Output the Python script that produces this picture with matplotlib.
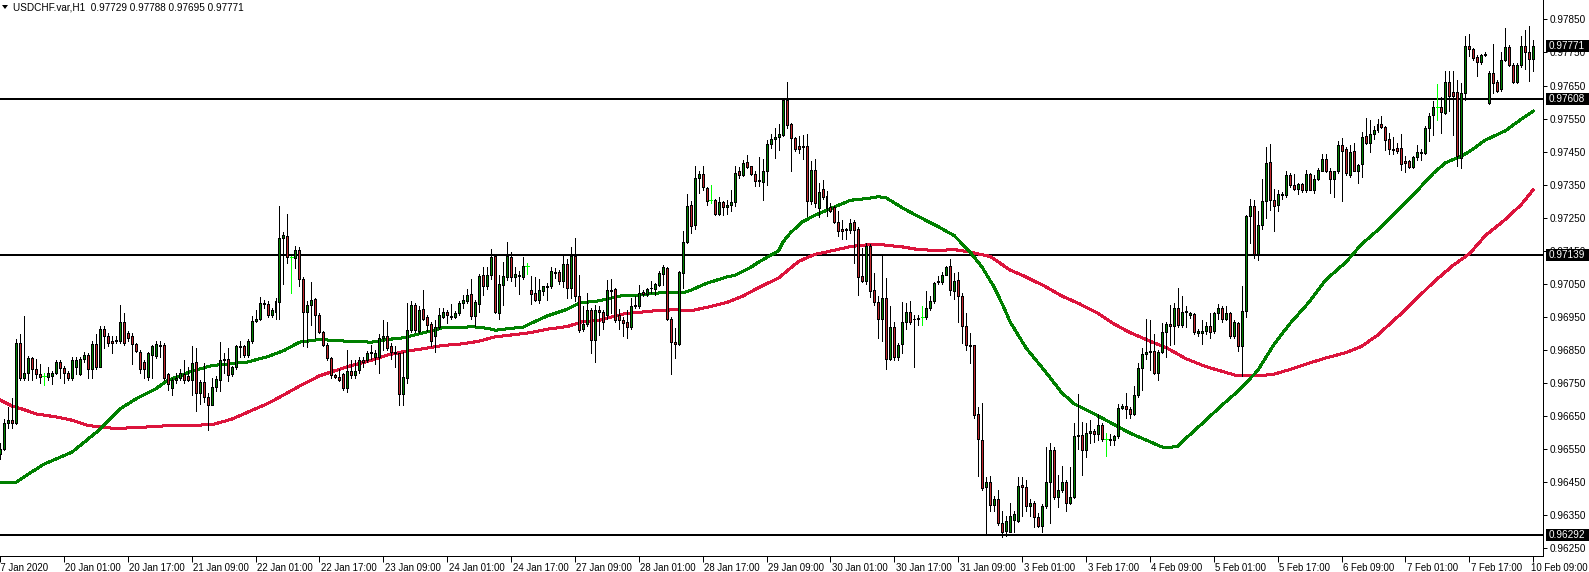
import matplotlib
matplotlib.use("Agg")
import matplotlib.pyplot as plt
import matplotlib.transforms as mtransforms
from matplotlib.patches import Rectangle, Polygon
import numpy as np

# ---------------- data ----------------
title_text = "USDCHF.var,H1  0.97729 0.97788 0.97695 0.97771"

open_ = [0.96535,0.96552,0.96630,0.96639,0.96630,0.96871,0.96767,0.96782,0.96826,0.96793,
0.96777,0.96772,0.96769,0.96772,0.96782,0.96814,0.96795,0.96782,0.96765,0.96798,
0.96779,0.96824,0.96835,0.96793,0.96869,0.96800,0.96915,0.96894,0.96877,0.96879,
0.96877,0.96934,0.96903,0.96894,0.96869,0.96845,0.96814,0.96769,0.96835,0.96831,
0.96861,0.96866,0.96777,0.96735,0.96761,0.96767,0.96777,0.96772,0.96761,0.96814,
0.96720,0.96754,0.96709,0.96685,0.96738,0.96761,0.96819,0.96822,0.96777,0.96798,
0.96859,0.96863,0.96835,0.96877,0.96938,0.96945,0.96989,0.96989,0.96955,0.96966,
0.96995,0.97188,0.97196,0.97131,0.97128,0.97152,0.97064,0.96966,0.96987,0.97005,
0.96957,0.96906,0.96864,0.96826,0.96775,0.96770,0.96779,0.96735,0.96788,0.96774,
0.96790,0.96819,0.96819,0.96843,0.96829,0.96829,0.96887,0.96892,0.96861,0.96845,
0.96840,0.96716,0.96767,0.96910,0.96987,0.96908,0.96973,0.96950,0.96929,0.96892,
0.96919,0.96950,0.96964,0.96953,0.96950,0.96961,0.96991,0.96997,0.97020,0.96953,
0.96990,0.97076,0.97044,0.97076,0.97133,0.96961,0.97048,0.97071,0.97131,0.97071,
0.97076,0.97071,0.97105,0.97031,0.97024,0.97002,0.97029,0.97044,0.97044,0.97086,
0.97086,0.97058,0.97109,0.97039,0.97133,0.97013,0.96913,0.96929,0.96971,0.96880,
0.96971,0.96964,0.96955,0.97031,0.97034,0.96955,0.96940,0.96934,0.96919,0.96987,
0.96982,0.97026,0.97020,0.97039,0.97036,0.97048,0.97081,0.97097,0.96945,0.96874,
0.96868,0.97084,0.97178,0.97289,0.97228,0.97369,0.97382,0.97341,0.97303,0.97303,
0.97261,0.97299,0.97283,0.97288,0.97299,0.97390,0.97380,0.97419,0.97406,0.97383,
0.97361,0.97359,0.97392,0.97474,0.97487,0.97495,0.97500,0.97605,0.97534,0.97492,
0.97466,0.97464,0.97466,0.97301,0.97395,0.97280,0.97338,0.97317,0.97283,0.97283,
0.97236,0.97217,0.97212,0.97212,0.97236,0.97215,0.97074,0.97060,0.97165,0.97031,
0.96994,0.96943,0.97006,0.96824,0.96920,0.96829,0.96869,0.96934,0.96964,0.96945,
0.96943,0.96950,0.96950,0.96976,0.96997,0.97055,0.97057,0.97078,0.97104,0.97029,
0.97062,0.97013,0.96922,0.96866,0.96864,0.96657,0.96578,0.96436,0.96450,0.96382,
0.96400,0.96327,0.96303,0.96300,0.96335,0.96332,0.96442,0.96436,0.96377,0.96387,
0.96345,0.96318,0.96377,0.96450,0.96547,0.96405,0.96426,0.96450,0.96387,0.96407,
0.96589,0.96594,0.96549,0.96599,0.96606,0.96597,0.96622,0.96580,0.96580,0.96578,
0.96589,0.96675,0.96681,0.96672,0.96657,0.96715,0.96796,0.96838,0.96845,0.96848,
0.96782,0.96845,0.96905,0.96929,0.96924,0.96976,0.96927,0.96966,0.96955,0.96958,
0.96901,0.96901,0.96908,0.96922,0.96908,0.96961,0.96976,0.96945,0.96961,0.96892,
0.96931,0.96863,0.96968,0.97254,0.97287,0.97141,0.97228,0.97301,0.97420,0.97303,
0.97290,0.97320,0.97319,0.97380,0.97350,0.97338,0.97351,0.97335,0.97383,0.97335,
0.97367,0.97393,0.97429,0.97390,0.97366,0.97390,0.97471,0.97458,0.97380,0.97451,
0.97393,0.97413,0.97498,0.97477,0.97503,0.97516,0.97535,0.97526,0.97487,0.97458,
0.97461,0.97462,0.97421,0.97421,0.97404,0.97434,0.97448,0.97445,0.97521,0.97560,
0.97584,0.97586,0.97568,0.97661,0.97631,0.97631,0.97432,0.97628,0.97771,0.97760,
0.97736,0.97720,0.97746,0.97598,0.97689,0.97660,0.97638,0.97726,0.97767,0.97713,
0.97662,0.97711,0.97770,0.97750,0.97729]

high = [0.96570,0.96641,0.96678,0.96704,0.96882,0.96898,0.96953,0.96832,0.96829,0.96824,
0.96809,0.96782,0.96798,0.96788,0.96819,0.96819,0.96803,0.96788,0.96829,0.96829,
0.96829,0.96845,0.96840,0.96877,0.96898,0.96924,0.96924,0.96903,0.96892,0.96892,
0.96987,0.96961,0.96908,0.96903,0.96871,0.96850,0.96819,0.96845,0.96866,0.96877,
0.96877,0.96871,0.96782,0.96767,0.96782,0.96793,0.96819,0.96798,0.96861,0.96856,
0.96761,0.96811,0.96720,0.96767,0.96772,0.96874,0.96840,0.96856,0.96803,0.96866,
0.96877,0.96866,0.96882,0.96953,0.96971,0.97010,0.97002,0.96997,0.96976,0.97008,
0.97285,0.97207,0.97262,0.97133,0.97165,0.97163,0.97071,0.96997,0.97055,0.97008,
0.96961,0.96908,0.96871,0.96829,0.96779,0.96793,0.96782,0.96850,0.96819,0.96819,
0.96829,0.96829,0.96848,0.96866,0.96850,0.96898,0.96940,0.96934,0.96871,0.96861,
0.96842,0.96845,0.96992,0.96997,0.96992,0.96982,0.97031,0.96957,0.96934,0.96940,
0.96976,0.96978,0.96971,0.96989,0.96968,0.96997,0.97016,0.97034,0.97065,0.97000,
0.97081,0.97102,0.97102,0.97157,0.97135,0.97076,0.97116,0.97177,0.97146,0.97100,
0.97090,0.97131,0.97113,0.97074,0.97071,0.97065,0.97044,0.97052,0.97102,0.97097,
0.97092,0.97135,0.97125,0.97163,0.97188,0.97076,0.96982,0.97023,0.96978,0.96987,
0.96982,0.96971,0.97063,0.97064,0.97039,0.96973,0.96950,0.96971,0.97006,0.97013,
0.97047,0.97031,0.97037,0.97060,0.97052,0.97089,0.97107,0.97102,0.96950,0.96916,
0.97088,0.97209,0.97322,0.97301,0.97408,0.97390,0.97408,0.97343,0.97348,0.97306,
0.97314,0.97301,0.97303,0.97333,0.97406,0.97403,0.97425,0.97440,0.97408,0.97393,
0.97435,0.97427,0.97485,0.97502,0.97523,0.97534,0.97610,0.97661,0.97537,0.97495,
0.97498,0.97500,0.97502,0.97422,0.97427,0.97356,0.97364,0.97331,0.97296,0.97285,
0.97270,0.97242,0.97220,0.97247,0.97244,0.97223,0.97160,0.97173,0.97170,0.97083,
0.97013,0.97139,0.97067,0.96984,0.96934,0.96871,0.96994,0.96992,0.96997,0.96955,
0.96955,0.96984,0.97029,0.97013,0.97055,0.97073,0.97086,0.97104,0.97125,0.97083,
0.97086,0.97024,0.96961,0.96901,0.96866,0.96678,0.96691,0.96465,0.96468,0.96410,
0.96426,0.96363,0.96347,0.96387,0.96363,0.96465,0.96465,0.96458,0.96400,0.96395,
0.96358,0.96384,0.96557,0.96570,0.96557,0.96471,0.96500,0.96458,0.96497,0.96630,
0.96716,0.96633,0.96630,0.96639,0.96611,0.96657,0.96630,0.96599,0.96597,0.96594,
0.96688,0.96688,0.96720,0.96678,0.96741,0.96811,0.96856,0.96943,0.96940,0.96898,
0.96850,0.96932,0.96936,0.96987,0.96992,0.97039,0.97013,0.96982,0.96966,0.96961,
0.96913,0.96940,0.96934,0.96961,0.96966,0.96989,0.96982,0.96984,0.96966,0.96940,
0.96934,0.97044,0.97259,0.97308,0.97303,0.97270,0.97366,0.97464,0.97472,0.97338,
0.97333,0.97327,0.97390,0.97385,0.97383,0.97354,0.97354,0.97395,0.97385,0.97380,
0.97401,0.97444,0.97442,0.97401,0.97392,0.97481,0.97490,0.97464,0.97471,0.97476,
0.97414,0.97510,0.97553,0.97547,0.97528,0.97549,0.97558,0.97529,0.97506,0.97495,
0.97476,0.97503,0.97437,0.97425,0.97437,0.97469,0.97458,0.97527,0.97568,0.97603,
0.97655,0.97616,0.97694,0.97694,0.97694,0.97668,0.97658,0.97799,0.97806,0.97762,
0.97743,0.97746,0.97752,0.97694,0.97776,0.97666,0.97752,0.97825,0.97773,0.97717,
0.97717,0.97800,0.97818,0.97831,0.97788]

low = [0.96520,0.96547,0.96615,0.96615,0.96625,0.96761,0.96761,0.96761,0.96761,0.96767,
0.96751,0.96744,0.96761,0.96746,0.96777,0.96767,0.96751,0.96761,0.96761,0.96777,
0.96775,0.96814,0.96767,0.96767,0.96793,0.96798,0.96856,0.96861,0.96840,0.96871,
0.96871,0.96866,0.96877,0.96809,0.96845,0.96782,0.96767,0.96761,0.96767,0.96827,
0.96829,0.96761,0.96730,0.96714,0.96751,0.96761,0.96751,0.96756,0.96714,0.96667,
0.96688,0.96693,0.96609,0.96683,0.96725,0.96727,0.96782,0.96756,0.96772,0.96793,
0.96829,0.96829,0.96829,0.96871,0.96934,0.96940,0.96976,0.96950,0.96950,0.96943,
0.96945,0.97050,0.97113,0.97023,0.97097,0.97044,0.96861,0.96858,0.96926,0.96887,
0.96903,0.96861,0.96821,0.96767,0.96767,0.96756,0.96730,0.96723,0.96767,0.96767,
0.96782,0.96798,0.96814,0.96824,0.96809,0.96782,0.96850,0.96850,0.96824,0.96798,
0.96683,0.96683,0.96751,0.96905,0.96905,0.96903,0.96940,0.96908,0.96863,0.96845,
0.96913,0.96947,0.96932,0.96945,0.96947,0.96957,0.96976,0.96992,0.96945,0.96922,
0.96966,0.97018,0.97034,0.97065,0.96961,0.96945,0.96987,0.97062,0.97060,0.97044,
0.97020,0.97065,0.97081,0.96989,0.96997,0.96992,0.97018,0.97002,0.97039,0.97068,
0.97050,0.97041,0.97008,0.97006,0.96997,0.96905,0.96908,0.96924,0.96842,0.96814,
0.96895,0.96913,0.96945,0.96961,0.96936,0.96913,0.96892,0.96887,0.96913,0.96978,
0.96976,0.97015,0.97013,0.97024,0.97018,0.97045,0.97047,0.96940,0.96779,0.96827,
0.96866,0.97039,0.97175,0.97205,0.97217,0.97326,0.97335,0.97289,0.97296,0.97259,
0.97259,0.97259,0.97261,0.97272,0.97287,0.97369,0.97377,0.97401,0.97380,0.97345,
0.97345,0.97303,0.97350,0.97460,0.97432,0.97456,0.97498,0.97523,0.97390,0.97453,
0.97446,0.97427,0.97254,0.97291,0.97282,0.97251,0.97306,0.97254,0.97268,0.97233,
0.97194,0.97186,0.97186,0.97205,0.97113,0.97018,0.97055,0.97050,0.97011,0.96987,
0.96887,0.96877,0.96793,0.96819,0.96821,0.96819,0.96840,0.96915,0.96929,0.96800,
0.96925,0.96925,0.96945,0.96971,0.96992,0.97049,0.97049,0.97076,0.97016,0.97003,
0.96934,0.96871,0.96851,0.96811,0.96645,0.96470,0.96426,0.96295,0.96363,0.96363,
0.96321,0.96284,0.96289,0.96299,0.96300,0.96329,0.96347,0.96363,0.96347,0.96316,
0.96316,0.96299,0.96371,0.96327,0.96400,0.96374,0.96421,0.96363,0.96384,0.96402,
0.96552,0.96473,0.96526,0.96570,0.96573,0.96578,0.96576,0.96531,0.96563,0.96563,
0.96583,0.96672,0.96645,0.96645,0.96653,0.96709,0.96730,0.96824,0.96790,0.96779,
0.96761,0.96842,0.96828,0.96866,0.96869,0.96919,0.96919,0.96919,0.96947,0.96898,
0.96892,0.96868,0.96898,0.96887,0.96903,0.96945,0.96934,0.96940,0.96887,0.96887,
0.96848,0.96772,0.96950,0.97175,0.97129,0.97121,0.97215,0.97249,0.97275,0.97209,
0.97270,0.97306,0.97314,0.97343,0.97333,0.97322,0.97327,0.97327,0.97333,0.97324,
0.97364,0.97390,0.97388,0.97324,0.97314,0.97385,0.97301,0.97380,0.97374,0.97390,
0.97354,0.97372,0.97474,0.97448,0.97488,0.97510,0.97521,0.97456,0.97442,0.97442,
0.97445,0.97396,0.97387,0.97401,0.97401,0.97425,0.97425,0.97443,0.97483,0.97500,
0.97547,0.97507,0.97563,0.97574,0.97500,0.97408,0.97401,0.97605,0.97738,0.97727,
0.97680,0.97715,0.97739,0.97595,0.97628,0.97631,0.97634,0.97723,0.97708,0.97659,
0.97657,0.97705,0.97699,0.97664,0.97695]

close = [0.96552,0.96630,0.96639,0.96630,0.96871,0.96767,0.96782,0.96826,0.96793,0.96777,
0.96769,0.96772,0.96782,0.96782,0.96814,0.96795,0.96782,0.96765,0.96819,0.96819,
0.96824,0.96835,0.96793,0.96869,0.96800,0.96915,0.96892,0.96871,0.96871,0.96877,
0.96934,0.96871,0.96887,0.96869,0.96848,0.96793,0.96793,0.96840,0.96861,0.96869,
0.96866,0.96767,0.96746,0.96761,0.96767,0.96782,0.96761,0.96761,0.96811,0.96720,
0.96754,0.96709,0.96683,0.96738,0.96764,0.96819,0.96822,0.96774,0.96798,0.96861,
0.96863,0.96835,0.96877,0.96938,0.96945,0.96992,0.96992,0.96957,0.96971,0.96997,
0.97188,0.97199,0.97131,0.97131,0.97152,0.97064,0.96966,0.96987,0.97002,0.96957,
0.96906,0.96864,0.96826,0.96775,0.96770,0.96761,0.96735,0.96788,0.96774,0.96788,
0.96819,0.96814,0.96842,0.96840,0.96842,0.96887,0.96892,0.96856,0.96845,0.96840,
0.96716,0.96769,0.96910,0.96987,0.96910,0.96971,0.96945,0.96927,0.96877,0.96919,
0.96955,0.96964,0.96955,0.96949,0.96963,0.96991,0.97002,0.97018,0.96953,0.96994,
0.97074,0.97044,0.97076,0.97131,0.96964,0.97050,0.97074,0.97133,0.97071,0.97079,
0.97073,0.97105,0.97105,0.97021,0.97000,0.97031,0.97043,0.97042,0.97088,0.97084,
0.97058,0.97109,0.97039,0.97135,0.97013,0.96911,0.96929,0.96971,0.96880,0.96971,
0.96966,0.96936,0.97031,0.97029,0.96940,0.96940,0.96932,0.96919,0.96983,0.96982,
0.97024,0.97020,0.97036,0.97037,0.97050,0.97083,0.97100,0.96943,0.96874,0.96869,
0.97086,0.97178,0.97285,0.97226,0.97369,0.97382,0.97343,0.97301,0.97303,0.97261,
0.97299,0.97282,0.97288,0.97299,0.97385,0.97380,0.97416,0.97404,0.97383,0.97361,
0.97364,0.97392,0.97474,0.97487,0.97495,0.97502,0.97605,0.97532,0.97492,0.97458,
0.97458,0.97466,0.97301,0.97395,0.97296,0.97327,0.97314,0.97280,0.97270,0.97236,
0.97209,0.97209,0.97217,0.97233,0.97212,0.97071,0.97060,0.97165,0.97029,0.96994,
0.96943,0.97006,0.96824,0.96920,0.96829,0.96866,0.96934,0.96964,0.96936,0.96943,
0.96947,0.96950,0.96976,0.96997,0.97052,0.97058,0.97078,0.97100,0.97031,0.97060,
0.97013,0.96922,0.96864,0.96863,0.96653,0.96581,0.96433,0.96450,0.96382,0.96400,
0.96327,0.96300,0.96332,0.96347,0.96353,0.96440,0.96436,0.96377,0.96387,0.96345,
0.96318,0.96377,0.96450,0.96547,0.96405,0.96426,0.96450,0.96387,0.96407,0.96589,
0.96594,0.96549,0.96599,0.96604,0.96597,0.96622,0.96580,0.96580,0.96578,0.96589,
0.96675,0.96681,0.96672,0.96657,0.96715,0.96796,0.96838,0.96845,0.96848,0.96782,
0.96845,0.96905,0.96929,0.96924,0.96976,0.96927,0.96966,0.96969,0.96961,0.96906,
0.96908,0.96908,0.96922,0.96906,0.96961,0.96976,0.96945,0.96961,0.96892,0.96934,
0.96863,0.96968,0.97254,0.97287,0.97141,0.97228,0.97301,0.97416,0.97303,0.97287,
0.97322,0.97322,0.97380,0.97350,0.97338,0.97351,0.97333,0.97383,0.97335,0.97367,
0.97395,0.97429,0.97393,0.97366,0.97390,0.97471,0.97453,0.97385,0.97450,0.97393,
0.97411,0.97495,0.97477,0.97502,0.97516,0.97535,0.97524,0.97484,0.97458,0.97455,
0.97453,0.97414,0.97416,0.97404,0.97434,0.97448,0.97445,0.97521,0.97558,0.97586,
0.97584,0.97570,0.97661,0.97618,0.97618,0.97437,0.97628,0.97771,0.97760,0.97733,
0.97720,0.97743,0.97743,0.97689,0.97657,0.97634,0.97728,0.97767,0.97712,0.97662,
0.97711,0.97770,0.97750,0.97729,0.97771]

# moving averages (bar number, value)
ma_fast_bar = [0,4,8,11,18,25,30,34,39,42,48,53,58,62,67,71,75,80,84,88,93,97,101,107,111,116,
118,122,124,129,131,133,137,142,145,150,156,160,164,169,171,173,177,182,184,188,190,195,
196,198,201,204,209,213,217,220,222,226,230,235,239,243,246,249,251,253,257,262,266,269,
275,279,283,288,291,293,295,297,302,306,310,315,319,323,328,332,337,341,345,351,355,359,
362,366,368,372,377,381,384]
ma_fast = [0.96449,0.96450,0.96482,0.96505,0.96541,0.96610,0.96672,0.96702,0.96733,0.96758,
0.96786,0.96803,0.96809,0.96814,0.96830,0.96848,0.96874,0.96882,0.96879,0.96876,0.96874,
0.96882,0.96887,0.96905,0.96918,0.96918,0.96921,0.96916,0.96910,0.96917,0.96919,0.96931,
0.96953,0.96973,0.96992,0.96999,0.97015,0.97016,0.97022,0.97025,0.97023,0.97031,0.97052,
0.97071,0.97076,0.97100,0.97116,0.97150,0.97175,0.97205,0.97238,0.97257,0.97283,0.97303,
0.97308,0.97314,0.97310,0.97280,0.97254,0.97223,0.97196,0.97146,0.97100,0.97040,0.96990,
0.96935,0.96856,0.96782,0.96720,0.96688,0.96651,0.96625,0.96599,0.96573,0.96557,0.96556,
0.96559,0.96583,0.96638,0.96683,0.96725,0.96788,0.96866,0.96929,0.96997,0.97062,0.97115,
0.97170,0.97212,0.97285,0.97333,0.97385,0.97416,0.97437,0.97450,0.97485,0.97513,0.97548,
0.97572]

ma_slow_bar = [0,3,6,9,14,18,22,27,29,35,40,44,53,58,62,67,71,75,80,84,88,93,97,101,107,111,
116,120,124,129,133,137,142,146,150,156,160,164,169,173,177,182,186,190,195,200,204,209,
213,217,220,222,226,230,235,239,243,248,253,257,262,266,270,275,279,283,288,292,297,302,
306,310,315,319,323,328,332,337,341,345,351,355,359,364,368,372,377,381,384]
ma_slow = [0.96699,0.96681,0.96670,0.96657,0.96648,0.96638,0.96622,0.96615,0.96613,0.96616,
0.96620,0.96622,0.96624,0.96641,0.96662,0.96688,0.96714,0.96741,0.96772,0.96788,0.96803,
0.96819,0.96835,0.96845,0.96856,0.96864,0.96869,0.96877,0.96890,0.96897,0.96903,0.96913,
0.96921,0.96936,0.96940,0.96959,0.96964,0.96969,0.96972,0.96969,0.96979,0.96994,0.97013,
0.97039,0.97068,0.97118,0.97139,0.97152,0.97163,0.97168,0.97170,0.97167,0.97162,0.97154,
0.97151,0.97154,0.97146,0.97133,0.97092,0.97071,0.97041,0.97013,0.96992,0.96961,0.96929,
0.96903,0.96877,0.96858,0.96824,0.96800,0.96786,0.96772,0.96772,0.96777,0.96791,0.96811,
0.96826,0.96842,0.96861,0.96895,0.96961,0.97008,0.97055,0.97107,0.97141,0.97196,0.97245,
0.97290,0.97335]

level_prices = [0.97608, 0.97139, 0.96292]
last_price = 0.97771
price_tick_top = 0.97850
price_tick_step = 0.00100
price_tick_count = 17

time_labels = ["17 Jan 2020", "20 Jan 01:00", "20 Jan 17:00", "21 Jan 09:00", "22 Jan 01:00",
               "22 Jan 17:00", "23 Jan 09:00", "24 Jan 01:00", "24 Jan 17:00", "27 Jan 09:00",
               "28 Jan 01:00", "28 Jan 17:00", "29 Jan 09:00", "30 Jan 01:00", "30 Jan 17:00",
               "31 Jan 09:00", "3 Feb 01:00", "3 Feb 17:00", "4 Feb 09:00", "5 Feb 01:00",
               "5 Feb 17:00", "6 Feb 09:00", "7 Feb 01:00", "7 Feb 17:00", "10 Feb 09:00"]
bars_per_label = 16

# ---------------- styling ----------------
W, H, DPI = 1589, 572, 100
FONT = "Liberation Sans"
FS = 7.2
FSX = 6.9
UP = "#008000"
DOWN = "#C1272D"
DOJI = "#00FF00"
MA_FAST_C = "#008000"
MA_SLOW_C = "#DC143C"
PX = 72.0 / DPI  # one pixel in points

fig = plt.figure(figsize=(W / DPI, H / DPI), dpi=DPI)
fig.patch.set_facecolor("white")

plot_right, plot_bottom = 1543, 556
ax = fig.add_axes([0, 1 - plot_bottom / H, plot_right / W, plot_bottom / H])
ax.set_facecolor("white")

n = len(close)
bar_px = 4.0
first_px = -2.8
ax.set_xlim((0 - first_px) / bar_px, (plot_right - first_px) / bar_px)
ax.set_ylim(0.962273, 0.979086)

o = np.array(open_); hi = np.array(high); lo = np.array(low); c = np.array(close)
idx = np.arange(n)

# moving averages
ax.plot(ma_slow_bar, ma_slow, color=MA_SLOW_C, lw=2 * PX, antialiased=False, zorder=3)
ax.plot(ma_fast_bar, ma_fast, color=MA_FAST_C, lw=2 * PX, antialiased=False, zorder=3)

# horizontal levels
for lv in level_prices:
    ax.axhline(lv, color="black", lw=2 * PX, antialiased=False, zorder=2)

# candles
body_w = 0.5
for i in idx:
    if o[i] == c[i]:
        ax.vlines(i, lo[i], hi[i], color=DOJI, lw=PX, antialiased=False, zorder=4)
        ax.hlines(o[i], i - 0.4, i + 0.4, color=DOJI, lw=PX, antialiased=False, zorder=4)
        continue
    ax.vlines(i, lo[i], hi[i], color="black", lw=PX, antialiased=False, zorder=4)
    b0, b1 = min(o[i], c[i]), max(o[i], c[i])
    ax.add_patch(Rectangle((i - body_w / 2, b0), body_w, b1 - b0,
                           facecolor=UP if c[i] > o[i] else DOWN,
                           edgecolor="black", lw=PX, antialiased=False, zorder=5))

# axes / spines
for s in ("top", "left"):
    ax.spines[s].set_visible(False)
for s in ("right", "bottom"):
    ax.spines[s].set_color("black")
    ax.spines[s].set_linewidth(PX)

ax.yaxis.tick_right()
yt = [price_tick_top - k * price_tick_step for k in range(price_tick_count)]
ax.set_yticks(yt)
ax.set_yticklabels([f"{v:.5f}" for v in yt], fontfamily=FONT, fontsize=FS)
ax.tick_params(axis="y", direction="out", length=3, width=PX, pad=2, colors="black")

xt = [k * bars_per_label for k in range(len(time_labels))]
ax.set_xticks(xt)
ax.set_xticklabels(time_labels, fontfamily=FONT, fontsize=FSX, ha="left")
ax.tick_params(axis="x", direction="out", length=4, width=PX, pad=1, colors="black")
labs = ax.get_xticklabels()
for k, lab in enumerate(labs):
    if k == 0:
        dx = -5
    elif k == len(labs) - 1:
        lab.set_ha("right")
        dx = 54
    else:
        dx = 1.5
    lab.set_transform(lab.get_transform() +
                      mtransforms.ScaledTranslation(dx / DPI, 0, fig.dpi_scale_trans))

# price boxes on the right scale
ident = mtransforms.IdentityTransform()
box_h = 12
box_x0 = plot_right + 3
for p in level_prices + [last_price]:
    _, yd = ax.transData.transform((0, p))
    fig.add_artist(Rectangle((box_x0, yd - box_h / 2), W - box_x0, box_h, transform=ident,
                             facecolor="black", edgecolor="none", zorder=20))
    fig.text(box_x0 + 3, yd, f"{p:.5f}", transform=ident, color="white",
             fontfamily=FONT, fontsize=FS, va="center", ha="left", zorder=21)

# title with small triangle
fig.add_artist(Polygon([(2, H - 5), (8, H - 5), (5, H - 9)], closed=True, transform=ident,
                       facecolor="black", edgecolor="none"))
fig.text(13, H - 7, title_text, transform=ident, fontfamily=FONT, fontsize=FS,
         va="center", ha="left", color="black")

fig.savefig("out.png", dpi=DPI, facecolor="white")
